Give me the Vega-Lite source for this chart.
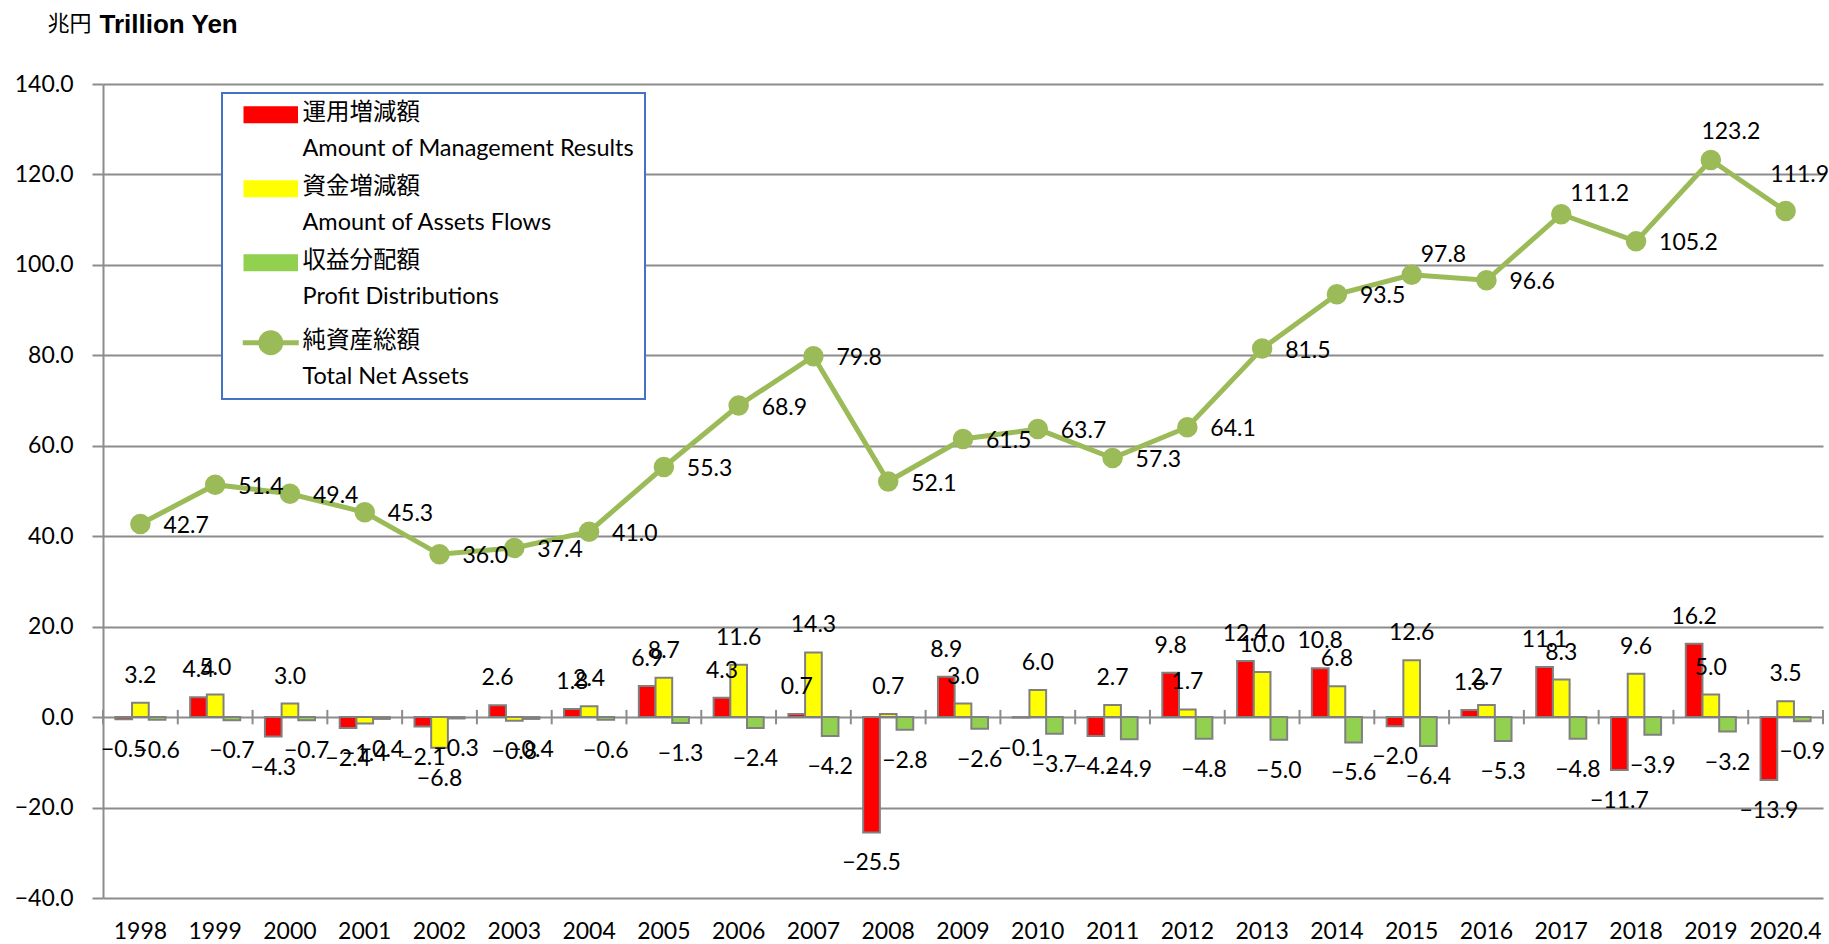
{
  "$schema": "https://vega.github.io/schema/vega-lite/v6.json",
  "autosize": {"type": "none"},
  "width": 1720,
  "height": 814,
  "padding": {"left": 103, "top": 84, "right": 6, "bottom": 46},
  "background": "white",
  "config": {
    "font": "Lato, 'Noto Sans CJK JP', sans-serif",
    "view": {"stroke": null}
  },
  "datasets": {
    "flows": [
      {"year": "1998", "series": "運用増減額", "value": -0.5}, {"year": "1998", "series": "資金増減額", "value": 3.2}, {"year": "1998", "series": "収益分配額", "value": -0.6},
      {"year": "1999", "series": "運用増減額", "value": 4.4}, {"year": "1999", "series": "資金増減額", "value": 5.0}, {"year": "1999", "series": "収益分配額", "value": -0.7},
      {"year": "2000", "series": "運用増減額", "value": -4.3}, {"year": "2000", "series": "資金増減額", "value": 3.0}, {"year": "2000", "series": "収益分配額", "value": -0.7},
      {"year": "2001", "series": "運用増減額", "value": -2.4}, {"year": "2001", "series": "資金増減額", "value": -1.4}, {"year": "2001", "series": "収益分配額", "value": -0.4},
      {"year": "2002", "series": "運用増減額", "value": -2.1}, {"year": "2002", "series": "資金増減額", "value": -6.8}, {"year": "2002", "series": "収益分配額", "value": -0.3},
      {"year": "2003", "series": "運用増減額", "value": 2.6}, {"year": "2003", "series": "資金増減額", "value": -0.8}, {"year": "2003", "series": "収益分配額", "value": -0.4},
      {"year": "2004", "series": "運用増減額", "value": 1.8}, {"year": "2004", "series": "資金増減額", "value": 2.4}, {"year": "2004", "series": "収益分配額", "value": -0.6},
      {"year": "2005", "series": "運用増減額", "value": 6.9}, {"year": "2005", "series": "資金増減額", "value": 8.7}, {"year": "2005", "series": "収益分配額", "value": -1.3},
      {"year": "2006", "series": "運用増減額", "value": 4.3}, {"year": "2006", "series": "資金増減額", "value": 11.6}, {"year": "2006", "series": "収益分配額", "value": -2.4},
      {"year": "2007", "series": "運用増減額", "value": 0.7}, {"year": "2007", "series": "資金増減額", "value": 14.3}, {"year": "2007", "series": "収益分配額", "value": -4.2},
      {"year": "2008", "series": "運用増減額", "value": -25.5}, {"year": "2008", "series": "資金増減額", "value": 0.7}, {"year": "2008", "series": "収益分配額", "value": -2.8},
      {"year": "2009", "series": "運用増減額", "value": 8.9}, {"year": "2009", "series": "資金増減額", "value": 3.0}, {"year": "2009", "series": "収益分配額", "value": -2.6},
      {"year": "2010", "series": "運用増減額", "value": -0.1}, {"year": "2010", "series": "資金増減額", "value": 6.0}, {"year": "2010", "series": "収益分配額", "value": -3.7},
      {"year": "2011", "series": "運用増減額", "value": -4.2}, {"year": "2011", "series": "資金増減額", "value": 2.7}, {"year": "2011", "series": "収益分配額", "value": -4.9},
      {"year": "2012", "series": "運用増減額", "value": 9.8}, {"year": "2012", "series": "資金増減額", "value": 1.7}, {"year": "2012", "series": "収益分配額", "value": -4.8},
      {"year": "2013", "series": "運用増減額", "value": 12.4}, {"year": "2013", "series": "資金増減額", "value": 10.0}, {"year": "2013", "series": "収益分配額", "value": -5.0},
      {"year": "2014", "series": "運用増減額", "value": 10.8}, {"year": "2014", "series": "資金増減額", "value": 6.8}, {"year": "2014", "series": "収益分配額", "value": -5.6},
      {"year": "2015", "series": "運用増減額", "value": -2.0}, {"year": "2015", "series": "資金増減額", "value": 12.6}, {"year": "2015", "series": "収益分配額", "value": -6.4},
      {"year": "2016", "series": "運用増減額", "value": 1.6}, {"year": "2016", "series": "資金増減額", "value": 2.7}, {"year": "2016", "series": "収益分配額", "value": -5.3},
      {"year": "2017", "series": "運用増減額", "value": 11.1}, {"year": "2017", "series": "資金増減額", "value": 8.3}, {"year": "2017", "series": "収益分配額", "value": -4.8},
      {"year": "2018", "series": "運用増減額", "value": -11.7}, {"year": "2018", "series": "資金増減額", "value": 9.6}, {"year": "2018", "series": "収益分配額", "value": -3.9},
      {"year": "2019", "series": "運用増減額", "value": 16.2}, {"year": "2019", "series": "資金増減額", "value": 5.0}, {"year": "2019", "series": "収益分配額", "value": -3.2},
      {"year": "2020.4", "series": "運用増減額", "value": -13.9}, {"year": "2020.4", "series": "資金増減額", "value": 3.5}, {"year": "2020.4", "series": "収益分配額", "value": -0.9}
    ],
    "assets": [
      {"year": "1998", "value": 42.7}, {"year": "1999", "value": 51.4}, {"year": "2000", "value": 49.4},
      {"year": "2001", "value": 45.3}, {"year": "2002", "value": 36.0}, {"year": "2003", "value": 37.4},
      {"year": "2004", "value": 41.0}, {"year": "2005", "value": 55.3}, {"year": "2006", "value": 68.9},
      {"year": "2007", "value": 79.8}, {"year": "2008", "value": 52.1}, {"year": "2009", "value": 61.5},
      {"year": "2010", "value": 63.7}, {"year": "2011", "value": 57.3}, {"year": "2012", "value": 64.1},
      {"year": "2013", "value": 81.5}, {"year": "2014", "value": 93.5}, {"year": "2015", "value": 97.8},
      {"year": "2016", "value": 96.6}, {"year": "2017", "value": 111.2}, {"year": "2018", "value": 105.2},
      {"year": "2019", "value": 123.2}, {"year": "2020.4", "value": 111.9}
    ]
  },
  "encoding": {
    "x": {
      "field": "year", "type": "nominal", "sort": null,
      "scale": {"paddingInner": 0, "paddingOuter": 0},
      "axis": {
        "title": "Trillion Yen", "titleX": -4, "titleY": -874, "titleAlign": "left", "titleBaseline": "middle",
        "titleFontSize": 26, "titleFontWeight": "bold", "titleFont": "Liberation Sans", "titleColor": "black",
        "domain": false, "ticks": false, "tickSize": 0, "grid": false, "labelAngle": 0, "labelPadding": 22, "labelFontSize": 23, "labelColor": "black"
      }
    },
    "y": {
      "field": "value", "type": "quantitative",
      "scale": {"domain": [-40, 140], "nice": false, "zero": false},
      "axis": {
        "title": "兆円", "values": [-40, -20, 0, 20, 40, 60, 80, 100, 120, 140], "format": ".1f",
        "grid": true, "gridColor": "#8c8c8c", "gridWidth": 2,
        "domainColor": "#8c8c8c", "domainWidth": 2, "tickColor": "#8c8c8c", "tickWidth": 2, "tickSize": 11,
        "labelPadding": 19, "labelFontSize": 23, "labelColor": "black",
        "titleAngle": 0, "titleX": -56, "titleY": -61, "titleAlign": "left", "titleBaseline": "middle",
        "titleFontWeight": "normal", "titleFontSize": 22, "titleColor": "black", "titleFont": "Noto Sans CJK JP"
      }
    }
  },
  "layer": [
    {
      "data": {"name": "assets"},
      "mark": {"type": "rule", "color": "#8c8c8c", "strokeWidth": 2},
      "encoding": {
        "x": {"field": "year", "type": "nominal", "sort": null, "bandPosition": 0},
        "y": {"datum": -1.6},
        "y2": {"datum": 1.6}
      }
    },
    {
      "data": {"name": "assets"},
      "transform": [{"filter": "datum.year == '2020.4'"}],
      "mark": {"type": "rule", "color": "#8c8c8c", "strokeWidth": 2},
      "encoding": {
        "x": {"field": "year", "type": "nominal", "sort": null, "bandPosition": 1},
        "y": {"datum": -1.6},
        "y2": {"datum": 1.6}
      }
    },
    {
      "data": {"name": "flows"},
      "mark": {"type": "bar", "stroke": "#808080", "strokeWidth": 2},
      "encoding": {
        "xOffset": {"field": "series", "type": "nominal", "sort": ["運用増減額", "資金増減額", "収益分配額"], "scale": {"paddingInner": 0, "paddingOuter": 0.74}},
        "y2": {"datum": 0},
        "color": {
          "field": "series", "type": "nominal",
          "scale": {"domain": ["運用増減額", "資金増減額", "収益分配額", "純資産総額"], "range": ["#FF0000", "#FFFF00", "#92D050", "#9BBB59"]},
          "legend": {
            "orient": "none", "legendX": 119, "legendY": 9, "title": null,
            "labelExpr": "datum.label == '運用増減額' ? ['運用増減額', 'Amount of Management Results'] : datum.label == '資金増減額' ? ['資金増減額', 'Amount of Assets Flows'] : datum.label == '収益分配額' ? ['収益分配額', 'Profit Distributions'] : ['純資産総額', 'Total Net Assets']",
            "labelFontSize": 23.5, "labelColor": "black", "labelLimit": 600, "labelBaseline": "top", "labelOffset": 20,
            "symbolSize": 400, "symbolOffset": 27, "rowPadding": 13, "padding": 10,
            "symbolType": "M-2.6,-0.72H2.6V0.72H-2.6Z",
            "symbolStrokeColor": "#808080", "symbolStrokeWidth": 2,
            "strokeColor": "#4472C4", "fillColor": "white",
            "encoding": {
              "legend": {"strokeWidth": {"value": 2}},
              "labels": {"dy": {"value": -14}, "lineHeight": {"value": 36}},
              "symbols": {
                "shape": {"value": {"expr": "datum.value == '純資産総額' ? 'M-2.8,0H2.8M1,0C1,0.552,0.552,1,0,1C-0.552,1,-1,0.552,-1,0C-1,-0.552,-0.552,-1,0,-1C0.552,-1,1,-0.552,1,0Z' : 'M-2.6,-0.72H2.6V0.72H-2.6Z'"}},
                "stroke": {"value": {"expr": "datum.value == '純資産総額' ? '#9BBB59' : '#7f7f7f'"}},
                "strokeWidth": {"value": {"expr": "datum.value == '純資産総額' ? 5 : 2.5"}},
                "opacity": {"value": 1}
              }
            }
          }
        }
      }
    },
    {
      "data": {"name": "flows"},
      "transform": [{"filter": "datum.value >= 0"}],
      "mark": {"type": "text", "baseline": "middle", "align": "center", "dy": -27, "fontSize": 23, "color": "black"},
      "encoding": {
        "xOffset": {"field": "series", "type": "nominal", "sort": ["運用増減額", "資金増減額", "収益分配額"]},
        "text": {"field": "value", "type": "quantitative", "format": ".1f"}
      }
    },
    {
      "data": {"name": "flows"},
      "transform": [{"filter": "datum.value < 0"}],
      "mark": {"type": "text", "baseline": "middle", "align": "center", "dy": 31, "fontSize": 23, "color": "black"},
      "encoding": {
        "xOffset": {"field": "series", "type": "nominal", "sort": ["運用増減額", "資金増減額", "収益分配額"]},
        "text": {"field": "value", "type": "quantitative", "format": ".1f"}
      }
    },
    {
      "data": {"name": "assets"},
      "mark": {"type": "line", "strokeWidth": 5, "point": {"filled": true, "size": 420}},
      "encoding": {
        "color": {"datum": "純資産総額"}
      }
    },
    {
      "data": {"name": "assets"},
      "transform": [{"filter": "indexof(['2015', '2017', '2019', '2020.4'], datum.year) < 0"}],
      "mark": {"type": "text", "align": "left", "baseline": "middle", "dx": 23, "dy": 2, "fontSize": 23, "color": "black"},
      "encoding": {"text": {"field": "value", "type": "quantitative", "format": ".1f"}}
    },
    {
      "data": {"name": "assets"},
      "transform": [{"filter": "datum.year == '2015' || datum.year == '2017'"}],
      "mark": {"type": "text", "align": "left", "baseline": "middle", "dx": 9, "dy": -20, "fontSize": 23, "color": "black"},
      "encoding": {"text": {"field": "value", "type": "quantitative", "format": ".1f"}}
    },
    {
      "data": {"name": "assets"},
      "transform": [{"filter": "datum.year == '2019'"}],
      "mark": {"type": "text", "align": "center", "baseline": "middle", "dx": 20, "dy": -28, "fontSize": 23, "color": "black"},
      "encoding": {"text": {"field": "value", "type": "quantitative", "format": ".1f"}}
    },
    {
      "data": {"name": "assets"},
      "transform": [{"filter": "datum.year == '2020.4'"}],
      "mark": {"type": "text", "align": "center", "baseline": "middle", "dx": 14, "dy": -36, "fontSize": 23, "color": "black"},
      "encoding": {"text": {"field": "value", "type": "quantitative", "format": ".1f"}}
    }
  ]
}
